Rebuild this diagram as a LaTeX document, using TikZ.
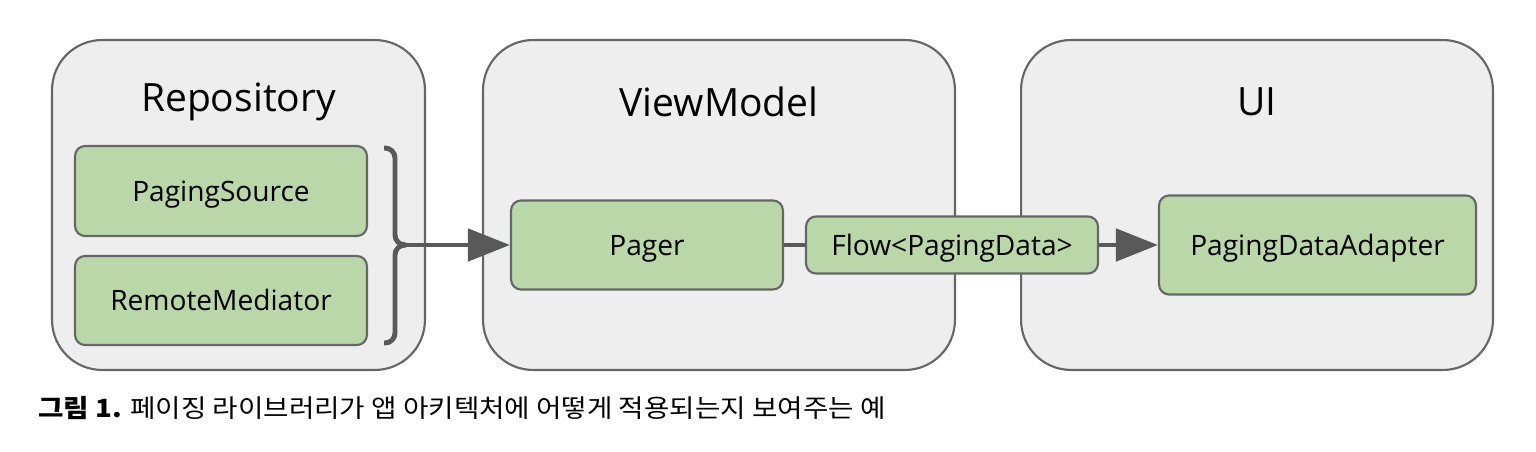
\documentclass[tikz,border=0pt]{standalone}
\usepackage{fontspec}
\setmainfont{Open Sans}
\newfontfamily\kr{Noto Sans CJK KR}
\usetikzlibrary{arrows.meta}
\definecolor{cont}{HTML}{EEEEEE}
\definecolor{edge}{HTML}{666666}
\definecolor{grn}{HTML}{B9D7A8}
\definecolor{conn}{HTML}{595959}
\tikzset{
  layer/.style={draw=edge, fill=cont, line width=1.2pt, rounded corners=1cm, inner sep=0pt},
  comp/.style={draw=edge, fill=grn, line width=1.2pt, rounded corners=0.2cm, inner sep=0pt, font=\fontsize{16}{19}\selectfont, text height=11.4pt, text depth=0pt},
  title/.style={font=\fontsize{22.2}{26}\selectfont, inner sep=0pt},
  link/.style={draw=conn, line width=2.8pt},
  head/.style={-{Triangle[length=0.84cm,width=0.64cm]}}
}
\begin{document}
\begin{tikzpicture}[x=0.02cm,y=-0.02cm]
\useasboundingbox (0,0) rectangle (1536,452);
\node[layer, minimum width=7.46cm, minimum height=6.6cm] (repo) at (238.5,205) {};
\node[layer, minimum width=9.44cm, minimum height=6.6cm] (vm) at (719,205) {};
\node[layer, minimum width=9.44cm, minimum height=6.6cm] (ui) at (1257,205) {};
\node[title] (repot) at (238.5,102) {Repository};
\node[title] (vmt) at (719,102) {ViewModel};
\node[title] (uit) at (1257,102) {UI};
\node[comp, minimum width=5.84cm, minimum height=1.8cm] (ps) at (221,191) {PagingSource};
\node[comp, minimum width=5.84cm, minimum height=1.78cm] (rm) at (221,300.5) {RemoteMediator};
\node[comp, minimum width=5.44cm, minimum height=1.78cm] (pager) at (647,245) {Pager};
\node[comp, minimum width=5.84cm, minimum height=1.14cm] (flow) at (952,245) {Flow<PagingData>};
\node[comp, minimum width=6.34cm, minimum height=1.98cm] (pda) at (1317.5,245) {PagingDataAdapter};
\coordinate (tip) at (406,245);
\draw[link, rounded corners=0.2cm] (384,148) -- (395,148) -- (395,245) -- (tip);
\draw[link, rounded corners=0.2cm] (384,343) -- (395,343) -- (395,245) -- (tip);
\draw[link, head] (tip) -- (pager.west);
\draw[link] (pager.east) -- (flow.west);
\draw[link, head] (flow.east) -- (pda.west);
\node[anchor=base west, inner sep=0pt, xscale=1.1, font=\kr\fontsize{14.3}{17}\selectfont] (cap) at (38,418) {\textbf{그림 1.} 페이징 라이브러리가 앱 아키텍처에 어떻게 적용되는지 보여주는 예};
\end{tikzpicture}
\end{document}
